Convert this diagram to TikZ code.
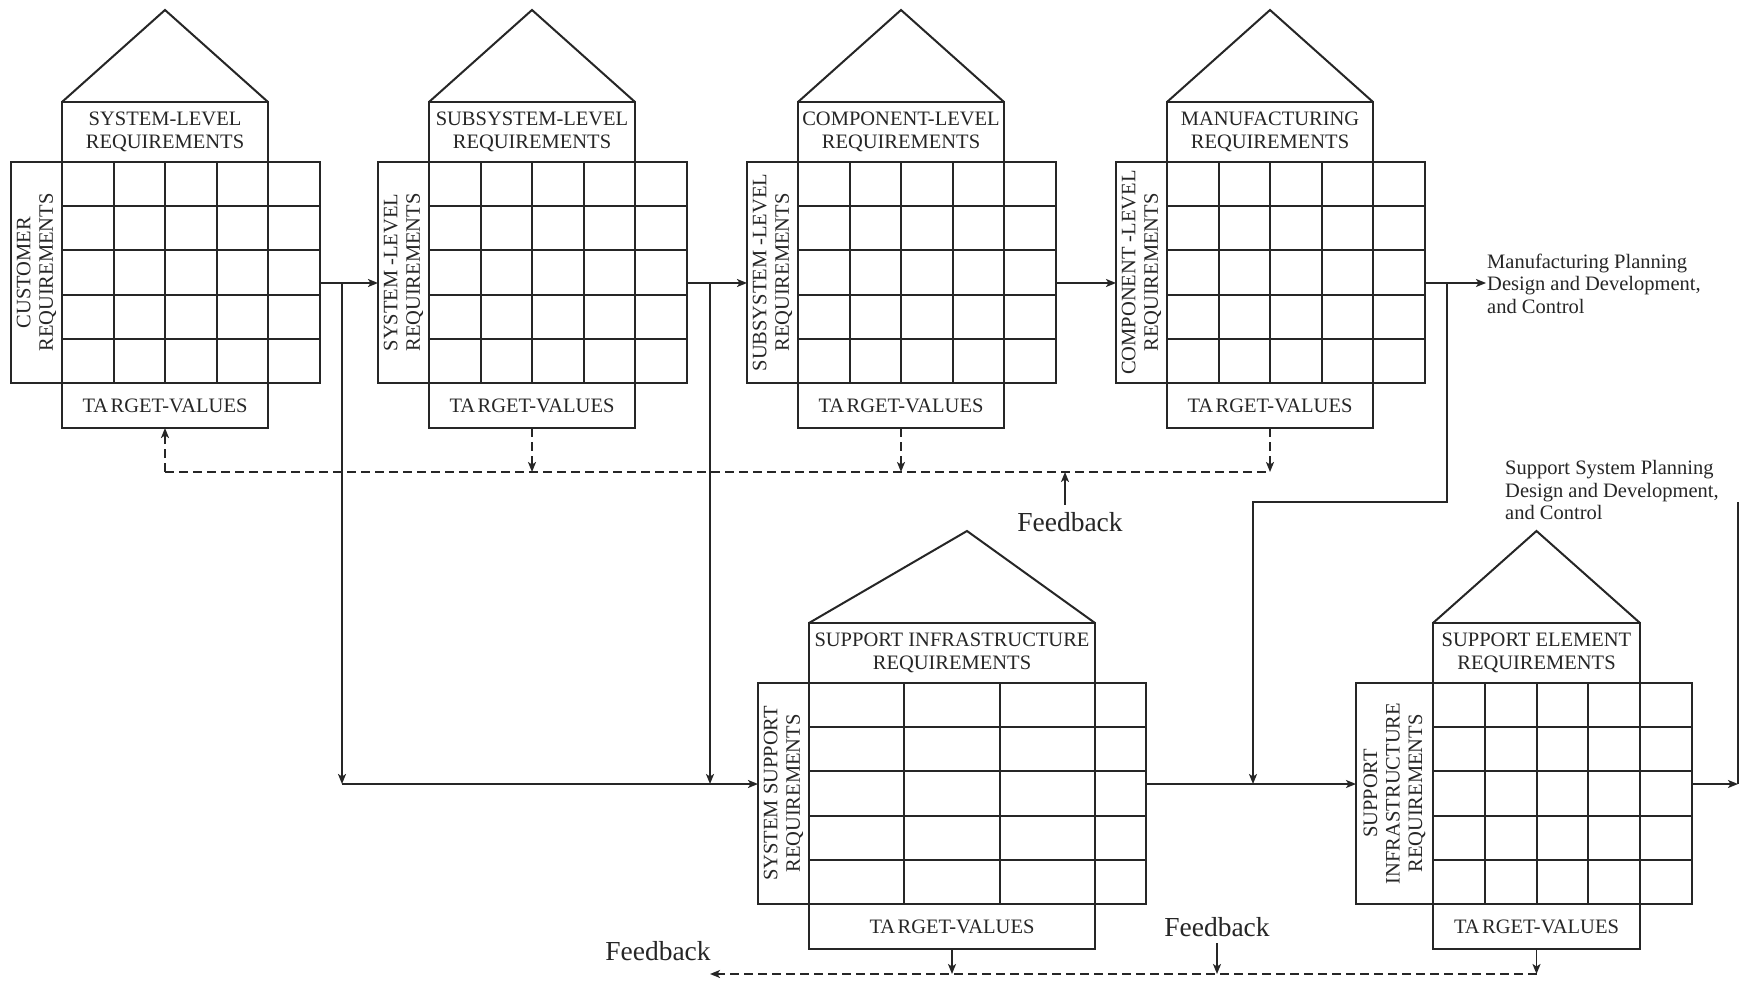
\documentclass[tikz,border=0pt]{standalone}
\usepackage{fontspec}
\setmainfont{Liberation Serif}
\usetikzlibrary{arrows.meta}

\newcommand\qfdbox{\fontsize{20.5}{22.5}\selectfont}
\newcommand\qfdnote{\fontsize{20.5}{22.5}\selectfont}
\newcommand\qfdfb{\fontsize{27.5}{30}\selectfont}

\tikzset{
  rule/.style={line width=2pt, draw=black!85},
  gridbox/.style={draw=black!85, line width=2pt, inner sep=0pt, outer sep=0pt},
  headbox/.style={draw=black!85, line width=2pt, minimum height=60pt, align=center,
    font=\qfdbox, text=black!85, inner sep=0pt, outer sep=0pt},
  basebox/.style={draw=black!85, line width=2pt, minimum height=45pt, align=center,
    font=\qfdbox, text=black!85, inner sep=0pt, outer sep=0pt},
  sidetext/.style={align=center, font=\qfdbox, text=black!85, inner sep=0pt},
  note/.style={align=left, font=\qfdnote, text=black!85, inner sep=0pt},
  fbtext/.style={font=\qfdfb, text=black!85, inner sep=7pt},
  arr/.style={-{Stealth[length=10pt,width=8pt,inset=2.5pt]}, line width=1.6pt, draw=black!85},
  dsh/.style={dash pattern=on 9pt off 5pt, line width=1.6pt, draw=black!85},
}

% One house of quality:
% #1 name, #2 left edge, #3 roof base, #4 side label width, #5 body columns,
% #6 column width, #7 apex offset, #8 roof-room text, #9 side text
\newcommand\qfdhouse[9]{%
  \pgfmathsetmacro\hsx{round(#2+#4)}%
  \pgfmathsetmacro\hsw{round(#5*#6)}%
  \pgfmathsetmacro\hgw{round(#4+#5*#6+51.5)}%
  \pgfmathsetmacro\hgy{#3+60}%
  \node[gridbox, minimum width=\hgw pt, minimum height=221pt, anchor=north west]
    (#1-grid) at (#2,\hgy) {};
  \foreach \k in {1,...,4}{
    \pgfmathsetmacro\ry{round(\hgy+44.2*\k)}
    \draw[rule] (\hsx,\ry) -- ++(\hgw-#4,0);
  }
  \foreach \k in {0,...,#5}{
    \pgfmathsetmacro\cx{round(\hsx+\k*#6)}
    \draw[rule] (\cx,\hgy) -- ++(0,221);
  }
  \node[headbox, minimum width=\hsw pt, anchor=north west] (#1-head) at (\hsx,#3) {#8};
  \coordinate (#1-apex) at (\hsx+\hsw/2+#7,#3-92);
  \draw[rule, line join=miter] (#1-head.north west) -- (#1-apex) -- (#1-head.north east);
  \node[basebox, minimum width=\hsw pt, anchor=north west] (#1-base) at (\hsx,\hgy+221)
    {TA\kern2.5pt RGET-VALUES};
  \node[sidetext, rotate=90] (#1-side) at (#2+#4/2,\hgy+110.5) {#9};
}

\begin{document}
\begin{tikzpicture}[x=1pt, y=-1pt]
\fill[white] (0,0) rectangle (1743,981);
\useasboundingbox (0,0) rectangle (1743,981);

% product chain
\qfdhouse{h1}{11}{102}{51}{4}{51.5}{0}{SYSTEM-LEVEL\\REQUIREMENTS}{CUSTOMER\\REQUIREMENTS}
\qfdhouse{h2}{378}{102}{51}{4}{51.5}{0}{SUBSYSTEM-LEVEL\\REQUIREMENTS}{SYSTEM -LEVEL\\REQUIREMENTS}
\qfdhouse{h3}{747}{102}{51}{4}{51.5}{0}{COMPONENT-LEVEL\\REQUIREMENTS}{SUBSYSTEM -LEVEL\\REQUIREMENTS}
\qfdhouse{h4}{1116}{102}{51}{4}{51.5}{0}{MANUFACTURING\\REQUIREMENTS}{COMPONENT -LEVEL\\REQUIREMENTS}

% support chain
\qfdhouse{h5}{758}{623}{51}{3}{95.3}{15}{SUPPORT INFRASTRUCTURE\\REQUIREMENTS}{SYSTEM SUPPORT\\REQUIREMENTS}
\qfdhouse{h6}{1356}{623}{77}{4}{51.75}{0}{SUPPORT ELEMENT\\REQUIREMENTS}{SUPPORT\\INFRASTRUCTURE\\REQUIREMENTS}

% outcome notes
\node[note, anchor=north west] (mfg) at (1487,253.5)
  {Manufacturing Planning\\Design and Development,\\and Control};
\node[note, anchor=north west] (supp) at (1505,460.5)
  {Support System Planning\\Design and Development,\\and Control};

% junctions of the flow lines
\coordinate (j1) at (342,283);
\coordinate (j2) at (710,283);
\coordinate (j3) at (1447,283);
\coordinate (k2) at (1253,502);
\coordinate (b1) at (342,784);
\coordinate (b2) at (710,784);
\coordinate (b3) at (1253,784);
\coordinate (r1) at (1738,784);
\coordinate (r2) at (1738,502);

% forward flow, product chain
\draw[arr] (h1-grid.east |- j1) -- (h2-grid.west |- j1);
\draw[arr] (h2-grid.east |- j1) -- (h3-grid.west |- j1);
\draw[arr] (h3-grid.east |- j1) -- (h4-grid.west |- j1);
\draw[arr] (h4-grid.east |- j1) -- ([xshift=-1pt]mfg.west |- j1);

% branches into the support chain
\draw[arr] (j1) -- (b1);
\draw[arr] (j2) -- (b2);
\draw[arr] (b1) -- (h5-grid.west |- b1);
\draw[arr] (j3) |- (k2) -- (b3);
\draw[arr] (h5-grid.east |- b1) -- (h6-grid.west |- b1);
\draw[arr] (h6-grid.east |- b1) -- (r1);
\draw[rule, line width=1.6pt] (r1) -- (r2);

% feedback, product chain
\coordinate (fbl) at (0,472);
\draw[dsh] (h1-base.south |- fbl) -- (h4-base.south |- fbl);
\draw[dsh, arr] (h1-base.south |- fbl) -- (h1-base.south);
\draw[dsh, arr] (h2-base.south) -- (h2-base.south |- fbl);
\draw[dsh, arr] (h3-base.south) -- (h3-base.south |- fbl);
\draw[dsh, arr] (h4-base.south) -- (h4-base.south |- fbl);
\node[fbtext, anchor=base] (fbA) at (1070,531) {Feedback};
\draw[arr] ([xshift=-5pt]fbA.north) -- ([xshift=-5pt]fbA.north |- fbl);

% feedback, support chain
\coordinate (fbl2) at (0,974);
\coordinate (fbend) at (710,974);
\draw[arr] (h5-base.south) -- (h5-base.south |- fbl2);
\draw[arr] (h6-base.south) -- (h6-base.south |- fbl2);
\draw[dsh, arr] (h6-base.south |- fbl2) -- (fbend);
\node[fbtext, anchor=base] (fbB) at (1217,936) {Feedback};
\draw[arr] (fbB.south) -- (fbB.south |- fbl2);
\node[fbtext, anchor=base] (fbC) at (658,960) {Feedback};
\end{tikzpicture}
\end{document}
